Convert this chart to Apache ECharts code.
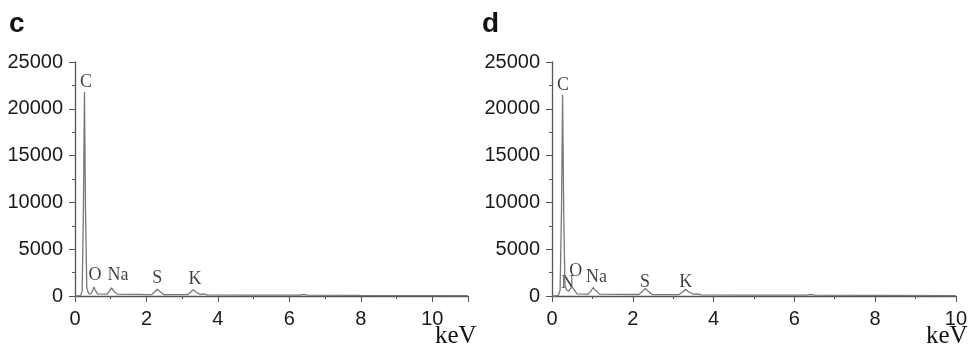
<!DOCTYPE html>
<html>
<head>
<meta charset="utf-8">
<script src="https://cdn.jsdelivr.net/npm/echarts@6/dist/echarts.min.js"></script>
<style>
  html, body { margin: 0; padding: 0; background: #fff; }
  #chart { width: 970px; height: 354px; }
</style>
</head>
<body>
<div id="chart"></div>
<script>
// spectrum c: [keV, counts]
var spectrumC = [
  [0, 0], [0.1, 0], [0.16, 80], [0.2, 500], [0.235, 9000], [0.265, 21800], [0.295, 9000],
  [0.33, 900], [0.38, 250], [0.45, 230], [0.5, 650], [0.53, 960], [0.57, 600], [0.63, 220],
  [0.9, 200], [0.97, 550], [1.02, 870], [1.08, 560], [1.18, 200],
  [2.15, 150], [2.24, 480], [2.31, 720], [2.38, 470], [2.48, 150],
  [3.15, 140], [3.25, 460], [3.31, 680], [3.38, 430], [3.5, 180], [3.6, 220], [3.7, 130],
  [5, 90], [6.3, 90], [6.4, 170], [6.5, 90], [8, 70], [11, 50]
];
// spectrum d: [keV, counts]
var spectrumD = [
  [0, 0], [0.1, 0], [0.16, 90], [0.2, 600], [0.235, 9000], [0.262, 21500], [0.29, 9000],
  [0.32, 1200], [0.35, 700], [0.38, 850], [0.41, 500], [0.44, 650], [0.49, 1000], [0.54, 700],
  [0.62, 220], [0.9, 200], [0.97, 580], [1.02, 900], [1.08, 580], [1.18, 200],
  [2.15, 160], [2.24, 520], [2.31, 800], [2.38, 520], [2.48, 160],
  [3.15, 150], [3.25, 480], [3.31, 720], [3.38, 450], [3.5, 190], [3.6, 220], [3.7, 130],
  [5, 90], [6.3, 90], [6.4, 170], [6.5, 90], [8, 70], [10, 50]
];
// peak labels: [text, keV, counts] (label centre)
var peaksC = [['C', 0.31, 22860], ['O', 0.56, 2240], ['Na', 1.2, 2240], ['S', 2.3, 1920], ['K', 3.36, 1815]];
var peaksD = [['C', 0.27, 22530], ['N', 0.39, 1390], ['O', 0.59, 2670], ['Na', 1.1, 2030], ['S', 2.3, 1500], ['K', 3.31, 1500]];
var xMaxC = 11, xMaxD = 10;
var yTicks = [0, 5000, 10000, 15000, 20000, 25000];

var sans = 'Liberation Sans, Arial, sans-serif';
var serif = 'Liberation Serif, Times New Roman, serif';
var axisColor = '#555';

function xAxisOf(idx, max) {
  return {
    gridIndex: idx, type: 'value', min: 0, max: max, interval: 2,
    axisLine: { lineStyle: { color: axisColor, width: 1.3 } },
    axisTick: { length: 6, lineStyle: { color: axisColor } },
    minorTick: { show: true, splitNumber: 2, length: 3, lineStyle: { color: axisColor } },
    splitLine: { show: false },
    axisLabel: {
      fontSize: 20, fontFamily: sans, color: '#1a1a1a', margin: 13,
      formatter: function (v) { return v > 10 ? '' : String(v); }
    }
  };
}
function yAxisOf(idx) {
  return {
    gridIndex: idx, type: 'value', min: yTicks[0], max: yTicks[yTicks.length - 1], interval: 5000,
    axisLine: { show: true, lineStyle: { color: axisColor, width: 1.3 } },
    axisTick: { show: true, length: 6, lineStyle: { color: axisColor } },
    minorTick: { show: true, splitNumber: 2, length: 3, lineStyle: { color: axisColor } },
    splitLine: { show: false },
    axisLabel: {
      fontSize: 20, fontFamily: sans, color: '#1a1a1a', margin: 12,
      formatter: function (v) { return String(v); }
    }
  };
}
function lineOf(idx, data) {
  return {
    type: 'line', xAxisIndex: idx, yAxisIndex: idx, data: data,
    showSymbol: false, silent: true,
    lineStyle: { color: '#777', width: 1.3 }
  };
}
function labelsOf(idx, peaks) {
  return {
    type: 'scatter', xAxisIndex: idx, yAxisIndex: idx, symbolSize: 0, silent: true,
    data: peaks.map(function (p) { return { name: p[0], value: [p[1], p[2]] }; }),
    label: {
      show: true, position: 'inside', formatter: '{b}',
      fontFamily: serif, fontSize: 18, color: '#111'
    }
  };
}

var myChart = echarts.init(document.getElementById('chart'));
myChart.setOption({
  animation: false,
  grid: [
    { left: 75, top: 62, width: 393, height: 234 },
    { left: 552, top: 62, width: 408, height: 234 }
  ],
  xAxis: [xAxisOf(0, xMaxC), xAxisOf(1, xMaxD)],
  yAxis: [yAxisOf(0), yAxisOf(1)],
  series: [
    lineOf(0, spectrumC), lineOf(1, spectrumD),
    labelsOf(0, peaksC), labelsOf(1, peaksD)
  ],
  graphic: [
    { type: 'text', left: 9, top: 10, style: { text: 'c', font: 'bold 28px ' + sans, fill: '#111' } },
    { type: 'text', left: 482, top: 10, style: { text: 'd', font: 'bold 28px ' + sans, fill: '#111' } },
    { type: 'text', left: 435, top: 324, style: { text: 'keV', font: '25px ' + serif, fill: '#111' } },
    { type: 'text', left: 926, top: 324, style: { text: 'keV', font: '25px ' + serif, fill: '#111' } }
  ]
});
</script>
</body>
</html>
